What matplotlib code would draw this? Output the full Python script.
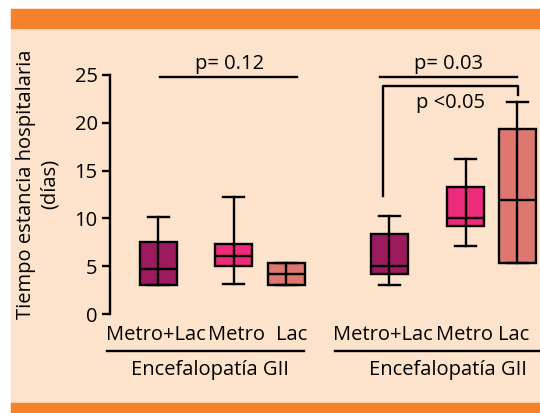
import matplotlib.pyplot as plt
from matplotlib.patches import Rectangle

plt.rcParams['font.family'] = ['Open Sans', 'DejaVu Sans']

# Datos de las cajas (días)
groups = ["Metro+Lac", "Metro", "Lac", "Metro+Lac", "Metro", "Lac"]
q1 = [3.05, 5.0, 3.05, 4.2, 9.2, 5.3]
med = [4.7, 6.1, 4.15, 5.0, 10.0, 11.9]
q3 = [7.5, 7.35, 5.3, 8.4, 13.3, 19.35]
whislo = [3.05, 3.1, 3.05, 3.0, 7.1, 5.3]
whishi = [10.1, 12.2, 5.3, 10.25, 16.2, 22.2]
group_label = "Encefalopatía GII"
p_texts = ["p= 0.12", "p= 0.03", "p <0.05"]
colors = ["#9c1b5f", "#ee2a7b", "#df7771", "#9c1b5f", "#ee2a7b", "#df7771"]

positions = [1.31, 3.34, 4.76, 7.55, 9.61, 11.01]
label_pos = [1.24, 3.43, 4.92, 7.38, 9.59, 10.9]

peach = "#fde3cb"
orange = "#f5812a"

fig = plt.figure(figsize=(5.4, 4.13), dpi=100)
fig.patch.set_facecolor("white")
W, H = 540, 413
fig.patches.append(Rectangle((11 / W, 0), 1, 1 - 9 / H, transform=fig.transFigure,
                             color=peach, zorder=-10))
fig.patches.append(Rectangle((11 / W, 1 - 28 / H), 1, 19 / H, transform=fig.transFigure,
                             color=orange, zorder=-9))
fig.patches.append(Rectangle((11 / W, 0), 1, 10 / H, transform=fig.transFigure,
                             color=orange, zorder=-9))

ax = fig.add_axes([110 / W, 1 - 314 / H, 430 / W, (314 - 75) / H])
ax.patch.set_alpha(0)

stats = []
for i in range(len(groups)):
    stats.append(dict(med=med[i], q1=q1[i], q3=q3[i], whislo=whislo[i],
                      whishi=whishi[i], fliers=[], label=groups[i]))

lw = 1.7
bp = ax.bxp(stats, positions=positions, widths=1.0, capwidths=0.57,
            patch_artist=True, showfliers=False,
            boxprops=dict(linewidth=lw, edgecolor="black"),
            medianprops=dict(linewidth=lw, color="black"),
            whiskerprops=dict(linewidth=lw, color="black"),
            capprops=dict(linewidth=lw, color="black"))
for box, c in zip(bp["boxes"], colors):
    box.set_facecolor(c)
# whiskers pass through the box in the reference
for i, p in enumerate(positions):
    ax.plot([p, p], [q1[i], q3[i]], color="black", lw=lw, zorder=3)

fs = 14.5
ax.set_xlim(0, 11.62)
ax.set_ylim(0, 25)
ax.set_yticks([0, 5, 10, 15, 20, 25])
for s in ["top", "right", "bottom"]:
    ax.spines[s].set_visible(False)
ax.spines["left"].set_linewidth(lw)
ax.tick_params(axis="y", direction="out", length=6, width=lw, labelsize=fs, pad=3)
ax.set_xticks(label_pos)
ax.set_xticklabels(groups, fontsize=fs)
ax.tick_params(axis="x", length=0, pad=8)

# group underlines and labels
ax.plot([-0.08, 5.24], [-3.87, -3.87], color="black", lw=lw, clip_on=False)
ax.plot([6.08, 11.8], [-3.87, -3.87], color="black", lw=lw, clip_on=False)
ax.text(2.7, -5.9, group_label, ha="center", va="center", fontsize=fs)
ax.text(9.14, -5.9, group_label, ha="center", va="center", fontsize=fs)

# p values
ax.plot([1.35, 5.05], [24.8, 24.8], color="black", lw=lw, clip_on=False)
ax.text(3.24, 25.1, p_texts[0], ha="center", va="bottom", fontsize=fs)
ax.plot([7.30, 11.0], [24.8, 24.8], color="black", lw=lw, clip_on=False)
ax.text(9.14, 25.1, p_texts[1], ha="center", va="bottom", fontsize=fs)
ax.plot([7.38, 7.38, 11.03, 11.03], [12.3, 23.85, 23.85, 22.9],
        color="black", lw=lw, clip_on=False)
ax.text(9.19, 22.1, p_texts[2], ha="center", va="center", fontsize=fs)

fig.text(38 / W, 1 - 184 / H, "Tiempo estancia hospitalaria\n(días)", rotation=90,
         ha="center", va="center", multialignment="center", fontsize=fs)

fig.savefig("out.png", dpi=100)
